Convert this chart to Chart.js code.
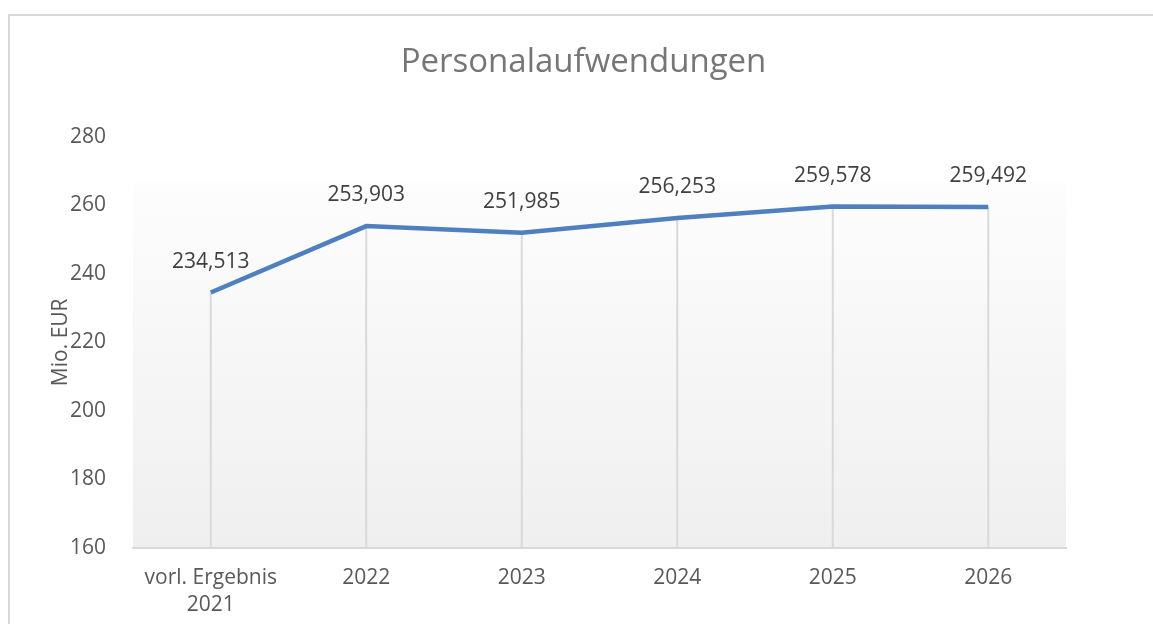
<!DOCTYPE html>
<html>
<head>
<meta charset="utf-8">
<script src="https://cdn.jsdelivr.net/npm/chart.js@4/dist/chart.umd.min.js"></script>
<style>
  html, body { margin: 0; padding: 0; background: #fff; }
  #wrap { width: 1153px; height: 624px; }
</style>
</head>
<body>
<div id="wrap"><canvas id="myLineChart"></canvas></div>
<script>
// chart data
const categories = [['vorl. Ergebnis', '2021'], '2022', '2023', '2024', '2025', '2026'];
const values = [234.513, 253.903, 251.985, 256.253, 259.578, 259.492];
const valueLabels = ['234,513', '253,903', '251,985', '256,253', '259,578', '259,492'];
const yTicks = [160, 180, 200, 220, 240, 260, 280];

const textColor = '#595959';
const gridGray = '#d9d9d9';

// frame + gradient plot background
const backgroundPlugin = {
  id: 'bgPlugin',
  beforeDraw(chart) {
    const ctx = chart.ctx;
    const area = chart.chartArea;
    const y = chart.scales.y;
    ctx.save();
    ctx.strokeStyle = gridGray;
    ctx.lineWidth = 2;
    ctx.beginPath();
    ctx.moveTo(9, chart.height);
    ctx.lineTo(9, 15);
    ctx.lineTo(chart.width, 15);
    ctx.stroke();

    const top = y.getPixelForValue(266.5);
    const grad = ctx.createLinearGradient(0, top, 0, area.bottom);
    grad.addColorStop(0, '#fdfdfd');
    grad.addColorStop(1, '#efefef');
    ctx.fillStyle = grad;
    ctx.fillRect(area.left, top, area.right - area.left, area.bottom - top);
    ctx.restore();
  }
};

// vertical drop lines from points down to the axis
const dropLinePlugin = {
  id: 'dropLines',
  beforeDatasetsDraw(chart) {
    const ctx = chart.ctx;
    const meta = chart.getDatasetMeta(0);
    ctx.save();
    ctx.strokeStyle = gridGray;
    ctx.lineWidth = 2;
    meta.data.forEach(pt => {
      ctx.beginPath();
      ctx.moveTo(pt.x, pt.y);
      ctx.lineTo(pt.x, chart.chartArea.bottom);
      ctx.stroke();
    });
    ctx.restore();
  }
};

// value labels above points
const labelPlugin = {
  id: 'valueLabels',
  afterDatasetsDraw(chart) {
    const ctx = chart.ctx;
    const meta = chart.getDatasetMeta(0);
    ctx.save();
    ctx.font = '21px "Open Sans"';
    ctx.fillStyle = '#404040';
    ctx.textAlign = 'center';
    ctx.textBaseline = 'middle';
    meta.data.forEach((pt, i) => {
      ctx.fillText(valueLabels[i], pt.x, pt.y - 31);
    });
    ctx.restore();
  }
};

const ctx = document.getElementById('myLineChart').getContext('2d');
const myLineChart = new Chart(ctx, {
  type: 'line',
  data: {
    labels: categories,
    datasets: [{
      data: values,
      borderColor: '#4e7fbf',
      borderWidth: 4.5,
      pointRadius: 0,
      tension: 0,
      fill: false
    }]
  },
  options: {
    responsive: true,
    maintainAspectRatio: false,
    animation: false,
    layout: { padding: { left: 14, right: 0, top: 0, bottom: 0 } },
    plugins: {
      legend: { display: false },
      tooltip: { enabled: false },
      title: {
        display: true,
        text: 'Personalaufwendungen',
        color: '#767676',
        font: { family: 'Open Sans', size: 33, weight: 'normal' },
        padding: { top: 43, bottom: 54 }
      }
    },
    scales: {
      x: {
        offset: true,
        grid: { display: false, drawTicks: false },
        border: { display: true, color: gridGray, width: 2 },
        ticks: {
          color: textColor,
          font: { family: 'Open Sans', size: 21, lineHeight: 1.29 },
          padding: 16,
          maxRotation: 0
        },
        afterFit(scale) { scale.height = 76; }
      },
      y: {
        min: 160,
        max: 280,
        grid: { display: false, drawTicks: false },
        border: { display: false },
        afterBuildTicks(scale) { scale.ticks = yTicks.map(v => ({ value: v })); },
        ticks: {
          color: textColor,
          font: { family: 'Open Sans', size: 21 },
          padding: 27
        },
        title: {
          display: true,
          text: 'Mio. EUR',
          color: textColor,
          font: { family: 'Open Sans', size: 21 },
          padding: { top: 34, bottom: 0 }
        },
        afterFit(scale) { scale.width = 119; }
      },
      // empty right-hand axis, only reserves the space to the right of the plot
      yRight: {
        position: 'right',
        display: true,
        grid: { display: false, drawTicks: false },
        border: { display: false },
        ticks: { display: false },
        afterFit(scale) { scale.width = 87; }
      }
    }
  },
  plugins: [backgroundPlugin, dropLinePlugin, labelPlugin]
});
</script>
</body>
</html>
